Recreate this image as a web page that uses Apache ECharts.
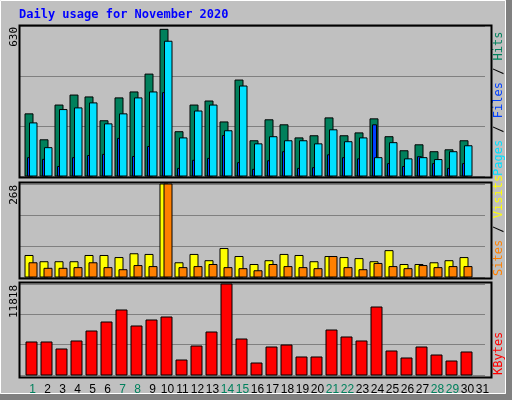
<!DOCTYPE html>
<html><head><meta charset="utf-8">
<script src="https://cdn.jsdelivr.net/npm/echarts@6/dist/echarts.min.js"></script>
<style>html,body{margin:0;padding:0;background:#c0c0c0}#c{width:512px;height:400px}</style>
</head><body><div id="c"></div>
<script>
const days = Array.from({length:31},(_,i)=>String(i+1));
const weekend = ['1','7','8','14','15','21','22','28','29'];
const hits  = [261,152,298,340,332,232,328,353,428,616,186,298,315,227,403,148,236,215,160,169,244,169,181,240,165,106,131,102,110,148,0];
const files = [77,70,40,77,86,91,158,82,124,350,32,66,74,170,56,28,64,102,32,35,89,77,72,215,52,40,81,52,32,52,0];
const pages = [223,119,279,286,307,219,261,328,353,566,160,273,298,190,378,135,165,148,148,135,194,144,160,77,140,72,77,69,102,127,0];
const visits= [62,44,44,44,62,62,56,67,65,268,41,65,47,82,59,36,47,65,62,44,59,56,53,44,76,36,36,41,47,56,0];
const sites = [41,25,25,27,41,27,21,33,30,268,27,30,36,27,24,18,36,30,27,24,59,27,21,39,30,24,33,27,30,30,0];
const kbytes= [4286,4286,3377,4416,5714,6883,8442,6364,7143,7532,1948,3766,5584,11818,4675,1558,3636,3896,2338,2338,5844,4935,4416,8831,3117,2208,3636,2597,1818,2987,0];
const maxTop=630, maxMid=268, maxBot=11818;

const chart = echarts.init(document.getElementById('c'));
function barSeries(name, data, xi, color, x0, x1){
  return {type:'custom', name, xAxisIndex:xi, yAxisIndex:xi, z:10,
    data:data.map((v,i)=>[i,v]),
    renderItem:(p,api)=>{
      const v=api.value(1); if(!v) return null;
      const c=api.coord([api.value(0),v]); const b=api.coord([api.value(0),0]);
      return {type:'rect', shape:{x:c[0]+x0, y:c[1], width:x1-x0, height:b[1]-c[1]},
        style:{fill:color, stroke:'#000', lineWidth:1}};
    }};
}
const gL=20, gW=465;
const grids=[{left:gL,top:26,width:gW,height:150},{left:gL,top:184,width:gW,height:93},{left:gL,top:284,width:gW,height:91}];
const maxes=[maxTop,maxMid,maxBot];
const xAxes=grids.map((g,i)=>({type:'category', gridIndex:i, data:days, boundaryGap:true,
  axisLine:{show:false}, axisTick:{show:false},
  axisLabel: i===2 ? {show:true, margin:9, padding:[0,0,0,10], fontFamily:'Liberation Sans', fontSize:12,
     color:(v)=>weekend.includes(v)?'#00805c':'#000', interval:0} : {show:false}}));
const yAxes=grids.map((g,i)=>({type:'value', gridIndex:i, min:0, max:maxes[i], interval:maxes[i]/3,
  axisLabel:{show:false}, axisLine:{show:false}, axisTick:{show:false},
  splitLine:{show:true, lineStyle:{color:'#808080', width:1}}}));
const frames=[[19,25,472,152],[19,182,472,96],[19,282,472,95]].map(r=>({type:'rect', z:1,
  shape:{x:r[0]+0.5,y:r[1]+0.5,width:r[2],height:r[3]}, style:{fill:null, stroke:'#000', lineWidth:2}}));
function vtext(txt,x,y,color,size){return {type:'text', x, y, rotation:Math.PI/2,
  style:{text:txt, fill:color, font:size+'px "DejaVu Sans Mono"', align:'right', verticalAlign:'middle'}};}
const rfont='12px "DejaVu Sans Mono"';
chart.setOption({
  backgroundColor:'#c0c0c0', animation:false,
  grid:grids, xAxis:xAxes, yAxis:yAxes,
  series:[
    barSeries('Hits',hits,0,'#00805c',-2.5,5.5),
    barSeries('Files',files,0,'#0040ff',0,4),
    barSeries('Pages',pages,0,'#00e0ff',2,9.5),
    barSeries('Visits',visits,1,'#ffff00',-2.5,5.5),
    barSeries('Sites',sites,1,'#ff8000',1.5,9.5),
    barSeries('KBytes',kbytes,2,'#ff0000',-1.5,9.5)
  ],
  graphic:[
    {type:'rect', z:0, shape:{x:0.5,y:0.5,width:505,height:393}, style:{fill:null, stroke:'#fff', lineWidth:1}},
    {type:'rect', z:0, shape:{x:506,y:0,width:6,height:400}, style:{fill:'#808080'}},
    {type:'rect', z:0, shape:{x:0,y:394,width:512,height:6}, style:{fill:'#808080'}},
    ...frames,
    {type:'text', x:19, y:15, style:{text:'Daily usage for November 2020', fill:'#0000ff', font:'bold 12px "DejaVu Sans Mono"', verticalAlign:'middle'}},
    vtext('630',14,27,'#000',11), vtext('268',14,185,'#000',11), vtext('11818',14,285,'#000',11),
    {type:'text', x:499, y:176, rotation:Math.PI/2, style:{rich:{a:{fill:'#00e0ff',font:rfont},b:{fill:'#0040ff',font:rfont},c:{fill:'#00805c',font:rfont},s:{fill:'#000',font:rfont}},
      text:'{a|Pages}{s| / }{b|Files}{s| / }{c|Hits}', font:rfont, align:'left', verticalAlign:'middle'}},
    {type:'text', x:499, y:276, rotation:Math.PI/2, style:{rich:{a:{fill:'#ff8000',font:rfont},b:{fill:'#ffff00',font:rfont},s:{fill:'#000',font:rfont}},
      text:'{a|Sites}{s| / }{b|Visits}', font:rfont, align:'left', verticalAlign:'middle'}},
    {type:'text', x:499, y:375, rotation:Math.PI/2, style:{text:'KBytes', fill:'#ff0000', font:rfont, align:'left', verticalAlign:'middle'}}
  ]
});
</script></body></html>
